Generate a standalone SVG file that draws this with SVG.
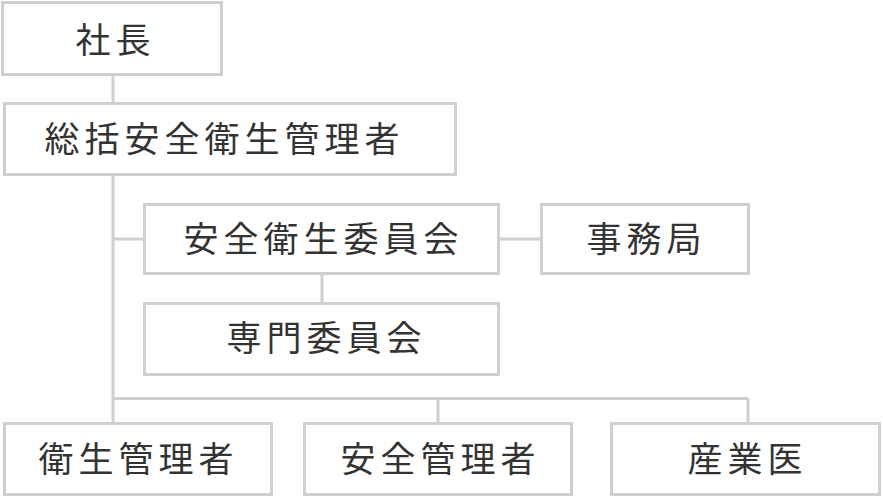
<svg xmlns="http://www.w3.org/2000/svg" width="883" height="497" viewBox="0 0 883 497">
<style>
.box{fill:#fff;stroke:#cfcfcf;stroke-width:3}
.lbl{font-family:"Noto Sans CJK JP","Noto Sans",sans-serif;font-size:35px;fill:#333;letter-spacing:5px;text-anchor:middle}
.con{fill:none;stroke:#cfcfcf;stroke-width:3}
</style>
<rect width="883" height="497" fill="#fff"/>
<g id="connectors">
<path class="con" d="M113 76V102"/>
<path class="con" d="M113 176V422"/>
<path class="con" d="M113 239H143"/>
<path class="con" d="M500 239H540"/>
<path class="con" d="M322 275V302"/>
<path class="con" d="M113 398.5H748M438 398.5V422M748 398.5V422"/>
</g>
<g id="n-shacho"><rect class="box" x="2.5" y="2.5" width="219" height="72"/><text class="lbl" x="115.5" y="53">社長</text></g>
<g id="n-sokatsu"><rect class="box" x="4.5" y="103.5" width="451" height="71"/><text class="lbl" x="224.5" y="152">総括安全衛生管理者</text></g>
<g id="n-iinkai"><rect class="box" x="144.5" y="204.5" width="354" height="69"/><text class="lbl" x="323.5" y="252">安全衛生委員会</text></g>
<g id="n-jimukyoku"><rect class="box" x="541.5" y="204.5" width="207" height="69"/><text class="lbl" x="646.5" y="252">事務局</text></g>
<g id="n-senmon"><rect class="box" x="144.5" y="303.5" width="354" height="71"/><text class="lbl" x="326.5" y="351">専門委員会</text></g>
<g id="n-eisei"><rect class="box" x="4.5" y="423.5" width="267" height="71"/><text class="lbl" x="138.5" y="472">衛生管理者</text></g>
<g id="n-anzen"><rect class="box" x="304.5" y="423.5" width="267" height="71"/><text class="lbl" x="440.5" y="472">安全管理者</text></g>
<g id="n-sangyoi"><rect class="box" x="611.5" y="423.5" width="268" height="71"/><text class="lbl" x="747.5" y="472">産業医</text></g>
</svg>
